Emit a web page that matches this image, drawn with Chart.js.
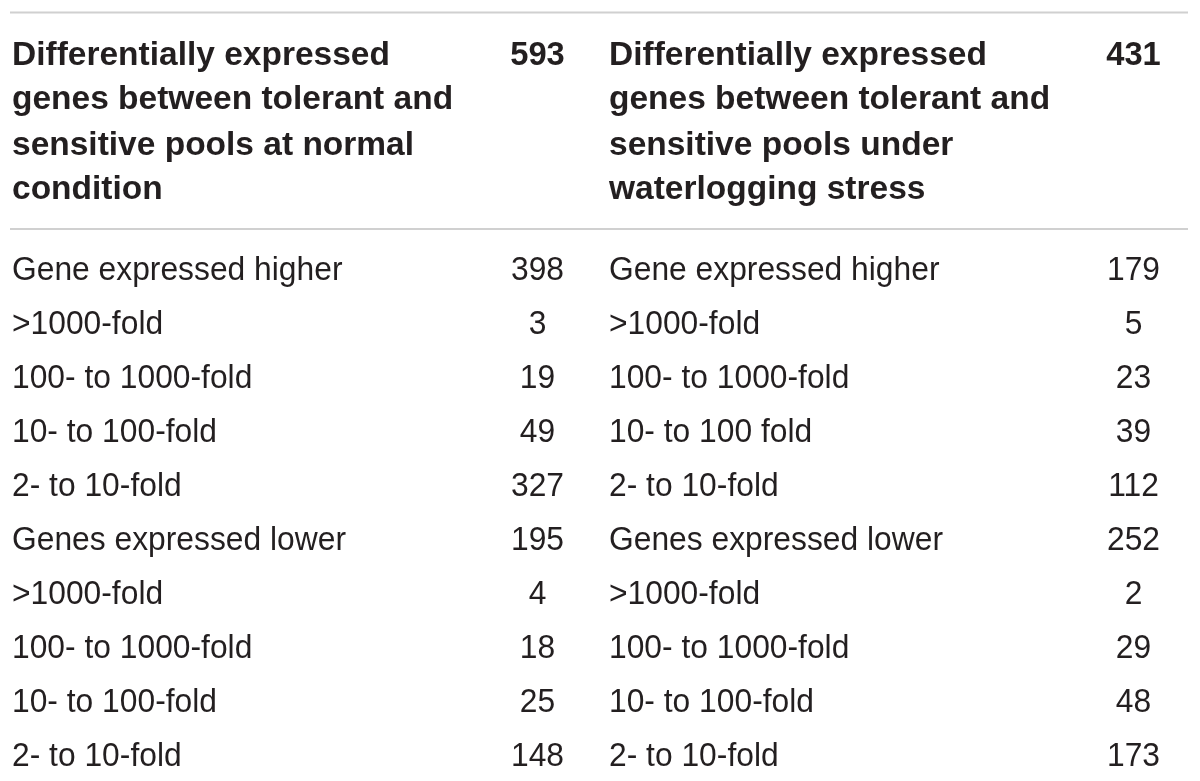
<!DOCTYPE html>
<html>
<head>
<meta charset="utf-8">
<script src="https://cdn.jsdelivr.net/npm/chart.js@4.4.1/dist/chart.umd.min.js"></script>
<style>
  html, body { margin: 0; padding: 0; background: #fff; }
  canvas { display: block; }
</style>
</head>
<body>
<canvas id="tableChart" width="1200" height="781"></canvas>
<script>
// table contents
const headerNormal = ["Differentially expressed", "genes between tolerant and", "sensitive pools at normal", "condition"];
const headerStress = ["Differentially expressed", "genes between tolerant and", "sensitive pools under", "waterlogging stress"];
const totalNormal = 593;
const totalStress = 431;

const rowsNormal = ["Gene expressed higher", ">1000-fold", "100- to 1000-fold", "10- to 100-fold", "2- to 10-fold",
                    "Genes expressed lower", ">1000-fold", "100- to 1000-fold", "10- to 100-fold", "2- to 10-fold"];
const rowsStress = ["Gene expressed higher", ">1000-fold", "100- to 1000-fold", "10- to 100 fold", "2- to 10-fold",
                    "Genes expressed lower", ">1000-fold", "100- to 1000-fold", "10- to 100-fold", "2- to 10-fold"];
const countsNormal = [398, 3, 19, 49, 327, 195, 4, 18, 25, 148];
const countsStress = [179, 5, 23, 39, 112, 252, 2, 29, 48, 173];

// layout (x in px, y in row units: body row i has its baseline at y = i)
const colLabelX = [12, 609];
const colNumberX = [537.5, 1133.5];
const headerRowY = [-3.98, -3.16, -2.315, -1.5];
const topRuleY = -4.955;
const midRuleY = -0.945;
const textColor = "#231f20";
const ruleColor = "#d0d0d0";

function points(counts, col) {
    return counts.map(function (v, i) { return { x: colNumberX[col], y: i, v: v }; });
}

// draw text squeezed horizontally around its anchor
function drawText(ctx, text, x, y, align, sx) {
    ctx.save();
    ctx.translate(x, y);
    ctx.scale(sx, 1);
    ctx.textAlign = align;
    ctx.fillText(text, 0, 0);
    ctx.restore();
}

const tablePlugin = {
    id: "tableText",
    afterDatasetsDraw: function (chart) {
        const ctx = chart.ctx;
        const xs = chart.scales.x;
        const ys = chart.scales.y;
        ctx.save();

        // rules
        ctx.strokeStyle = ruleColor;
        ctx.lineWidth = 2;
        [topRuleY, midRuleY].forEach(function (r) {
            const py = ys.getPixelForValue(r);
            ctx.beginPath();
            ctx.moveTo(xs.getPixelForValue(10), py);
            ctx.lineTo(xs.getPixelForValue(1188), py);
            ctx.stroke();
        });

        ctx.fillStyle = textColor;
        ctx.textBaseline = "alphabetic";

        // header
        ctx.font = "bold 33px 'Liberation Sans', Arial, sans-serif";
        [headerNormal, headerStress].forEach(function (lines, c) {
            lines.forEach(function (t, i) {
                drawText(ctx, t, xs.getPixelForValue(colLabelX[c]), ys.getPixelForValue(headerRowY[i]), "left", 1.015);
            });
        });
        drawText(ctx, String(totalNormal), xs.getPixelForValue(colNumberX[0]), ys.getPixelForValue(headerRowY[0]), "center", 0.99);
        drawText(ctx, String(totalStress), xs.getPixelForValue(colNumberX[1]), ys.getPixelForValue(headerRowY[0]), "center", 0.99);

        // body
        ctx.font = "34px 'Liberation Sans', Arial, sans-serif";
        chart.data.datasets.forEach(function (ds, c) {
            const meta = chart.getDatasetMeta(c);
            const labels = c === 0 ? rowsNormal : rowsStress;
            meta.data.forEach(function (pt, i) {
                drawText(ctx, labels[i], xs.getPixelForValue(colLabelX[c]), pt.y, "left", 0.935);
                drawText(ctx, String(ds.data[i].v), pt.x, pt.y, "center", 0.935);
            });
        });
        ctx.restore();
    }
};

new Chart(document.getElementById("tableChart").getContext("2d"), {
    type: "scatter",
    data: {
        datasets: [
            { label: "Normal condition", data: points(countsNormal, 0), pointRadius: 0 },
            { label: "Waterlogging stress", data: points(countsStress, 1), pointRadius: 0 }
        ]
    },
    options: {
        responsive: false,
        animation: false,
        layout: { padding: 0 },
        plugins: { legend: { display: false }, tooltip: { enabled: false } },
        scales: {
            x: { type: "linear", min: 0, max: 1200, display: false },
            y: { type: "linear", min: -280 / 54, max: (781 - 280) / 54, reverse: true, display: false }
        }
    },
    plugins: [tablePlugin]
});
</script>
</body>
</html>
